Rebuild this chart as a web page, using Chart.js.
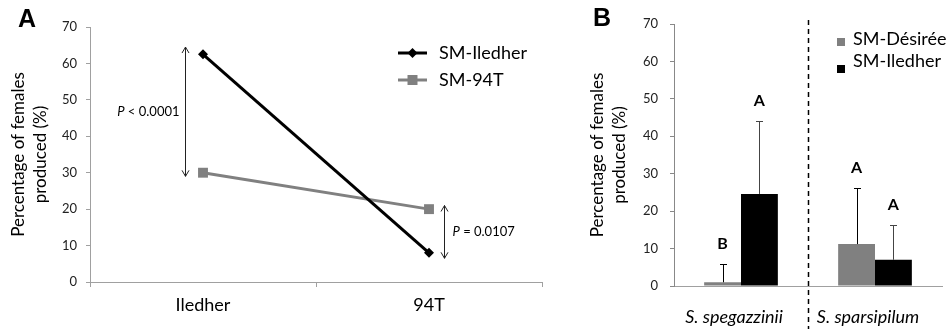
<!DOCTYPE html>
<html lang="en">
<head>
<meta charset="UTF-8">
<title>Percentage of females produced</title>
<script src="https://cdn.jsdelivr.net/npm/chart.js"></script>
<style>
  body { margin: 0; background: #fff; }
  .panel { position: absolute; top: 0; }
  .tag { position: absolute; font-family: 'Liberation Sans', Arial, sans-serif; font-weight: bold; font-size: 25px; line-height: 30px; }
</style>
</head>
<body>
<canvas id="chartA" class="panel" style="left:0" width="560" height="329"></canvas>
<canvas id="chartB" class="panel" style="left:570px" width="377" height="329"></canvas>
<div class="tag" style="left:18px;top:3px">A</div>
<div class="tag" style="left:593px;top:2px">B</div>

<script>
// Panel A: nematode population x cultivar
const cultivars = ['Iledher', '94T'];
const smIledher = [62.5, 8];
const sm94T = [30, 20];
// significance arrows, [from, to] on the y scale, one per cultivar
const pRanges = [[64.5, 29], [21, 6.5]];
const pLabels = [['P', ' < 0.0001'], ['P', ' = 0.0107']];

// Panel B: population on two wild species
const species = ['S. spegazzinii', 'S. sparsipilum'];
const smDesiree = [1, 11.2];
const smDesireeSd = [4.8, 15];
const smDesireeLetters = ['B', 'A'];
const smIledherB = [24.6, 7];
const smIledherBSd = [19.4, 9.2];
const smIledherBLetters = ['A', 'A'];

const yMax = 70;
const yStep = 10;
const yTitle = ['Percentage of females', 'produced (%)'];

const GREY = '#808080';
const AXIS = '#a0a0a0';

function drawArrow(ctx, x, y1, y2) {
  const h = 6, w = 3.5;
  ctx.beginPath();
  ctx.moveTo(x, y1); ctx.lineTo(x, y2);
  ctx.moveTo(x - w, y1 + h); ctx.lineTo(x, y1); ctx.lineTo(x + w, y1 + h);
  ctx.moveTo(x - w, y2 - h); ctx.lineTo(x, y2); ctx.lineTo(x + w, y2 - h);
  ctx.stroke();
}

function drawMarker(ctx, style, x, y, color) {
  ctx.fillStyle = color;
  ctx.beginPath();
  if (style === 'rectRot') {
    const r = 5;
    ctx.moveTo(x, y - r); ctx.lineTo(x + r, y); ctx.lineTo(x, y + r); ctx.lineTo(x - r, y);
    ctx.closePath();
  } else {
    ctx.rect(x - 5, y - 5, 10, 10);
  }
  ctx.fill();
}

const panelAExtras = {
  id: 'panelAExtras',
  afterDatasetsDraw(chart) {
    const {ctx, chartArea, scales: {x, y}} = chart;
    ctx.save();
    ctx.strokeStyle = '#222';
    ctx.lineWidth = 1;
    ctx.textBaseline = 'middle';
    pRanges.forEach((r, i) => {
      const ax = Math.round(x.getPixelForValue(i) + (i === 0 ? -18 : 15)) + 0.5;
      const y1 = y.getPixelForValue(r[0]);
      const y2 = y.getPixelForValue(r[1]);
      drawArrow(ctx, ax, y1, y2);
      const ym = (y1 + y2) / 2;
      ctx.font = 'italic 13px Lato';
      const wP = ctx.measureText(pLabels[i][0]).width;
      ctx.font = '13px Lato';
      const wR = ctx.measureText(pLabels[i][1]).width;
      const tx = i === 0 ? ax - 6 - wP - wR : ax + 8;
      ctx.fillStyle = '#000';
      ctx.textAlign = 'left';
      ctx.font = 'italic 13px Lato';
      ctx.fillText(pLabels[i][0], tx, ym);
      ctx.font = '13px Lato';
      ctx.fillText(pLabels[i][1], tx + wP, ym);
    });

    // legend: line + marker per series
    chart.data.datasets.forEach((ds, i) => {
      const ly = chartArea.top + 26 + i * 27;
      const lx = chartArea.right - 144;
      ctx.strokeStyle = ds.borderColor;
      ctx.lineWidth = 3;
      ctx.beginPath();
      ctx.moveTo(lx, ly); ctx.lineTo(lx + 29, ly);
      ctx.stroke();
      drawMarker(ctx, ds.pointStyle, lx + 14.5, ly, ds.borderColor);
      ctx.fillStyle = '#000';
      ctx.font = '18px Lato';
      ctx.fillText(ds.label, chartArea.right - 103, ly);
    });
    ctx.restore();
  }
};

const panelBExtras = {
  id: 'panelBExtras',
  afterDatasetsDraw(chart) {
    const {ctx, scales: {y}} = chart;
    ctx.save();
    ctx.lineWidth = 1;
    ctx.textAlign = 'center';
    ctx.textBaseline = 'middle';
    ctx.font = 'bold 16px Lato';
    chart.data.datasets.forEach((ds, di) => {
      chart.getDatasetMeta(di).data.forEach((bar, i) => {
        const top = Math.round(y.getPixelForValue(ds.data[i] + ds.errors[i])) + 0.5;
        const bx = Math.round(bar.x) + 0.5;
        ctx.strokeStyle = ds.errorColor;
        ctx.beginPath();
        ctx.moveTo(bx, bar.y); ctx.lineTo(bx, top);
        ctx.moveTo(bx - 3.5, top); ctx.lineTo(bx + 3.5, top);
        ctx.stroke();
        ctx.fillStyle = '#000';
        ctx.fillText(ds.letters[i], bar.x, top - 21);
      });
    });
    ctx.restore();
  },
  afterDraw(chart) {
    const {ctx, chartArea, scales: {x}} = chart;
    ctx.save();
    // dashed divider between the two species
    const mx = Math.round((x.getPixelForValue(0) + x.getPixelForValue(1)) / 2) + 0.5;
    ctx.strokeStyle = '#000';
    ctx.lineWidth = 1.5;
    ctx.setLineDash([5, 4]);
    ctx.beginPath();
    ctx.moveTo(mx, 20); ctx.lineTo(mx, chart.height);
    ctx.stroke();
    ctx.setLineDash([]);

    // legend: square + label
    ctx.textBaseline = 'middle';
    ctx.textAlign = 'left';
    ctx.font = '18px Lato';
    const sq = [38, 65];
    const ty = [39, 61];
    chart.data.datasets.forEach((ds, i) => {
      ctx.fillStyle = ds.backgroundColor;
      ctx.fillRect(chartArea.right - 105, sq[i], 8, 8);
      ctx.fillStyle = '#000';
      ctx.fillText(ds.label, chartArea.right - 89, ty[i]);
    });
    ctx.restore();
  }
};

function yAxis(width, labelPad, titlePad, borderColor) {
  return {
    min: 0,
    max: yMax,
    afterFit: s => { s.width = width; },
    border: { color: borderColor },
    grid: { drawOnChartArea: false, tickLength: 4, color: borderColor },
    ticks: { stepSize: yStep, padding: labelPad, color: '#222', font: { size: 13 } },
    title: {
      display: true,
      text: yTitle,
      color: '#000',
      padding: { top: titlePad, bottom: 0 },
      font: { size: 17, lineHeight: 1.3 }
    }
  };
}

function draw() {
  Chart.defaults.font.family = 'Lato';
  Chart.defaults.color = '#000';

  new Chart(document.getElementById('chartA'), {
    type: 'line',
    data: {
      labels: cultivars,
      datasets: [
        {
          label: 'SM-Iledher',
          data: smIledher,
          borderColor: '#000',
          backgroundColor: '#000',
          borderWidth: 3,
          pointStyle: 'rectRot',
          pointRadius: 5,
          pointBorderWidth: 0,
          pointBackgroundColor: '#000'
        },
        {
          label: 'SM-94T',
          data: sm94T,
          borderColor: GREY,
          backgroundColor: GREY,
          borderWidth: 3,
          pointStyle: 'rect',
          pointRadius: 7,
          pointBorderWidth: 0,
          pointBackgroundColor: GREY
        }
      ]
    },
    options: {
      responsive: false,
      animation: false,
      layout: { padding: { top: 27, right: 18, left: 0, bottom: 0 } },
      plugins: { legend: { display: false }, tooltip: { enabled: false } },
      scales: {
        x: {
          offset: true,
          afterFit: s => { s.height = 47; },
          border: { color: AXIS },
          grid: { offset: true, drawOnChartArea: false, tickLength: 5, color: AXIS },
          ticks: { padding: 7, color: '#000', font: { size: 18 } }
        },
        y: yAxis(90, 9, 7, AXIS)
      }
    },
    plugins: [panelAExtras]
  });

  new Chart(document.getElementById('chartB'), {
    type: 'bar',
    data: {
      labels: species,
      datasets: [
        {
          label: 'SM-Désirée',
          data: smDesiree,
          errors: smDesireeSd,
          letters: smDesireeLetters,
          errorColor: '#000',
          backgroundColor: GREY,
          categoryPercentage: 0.55,
          barPercentage: 1
        },
        {
          label: 'SM-Iledher',
          data: smIledherB,
          errors: smIledherBSd,
          letters: smIledherBLetters,
          errorColor: '#444',
          backgroundColor: '#000',
          categoryPercentage: 0.55,
          barPercentage: 1
        }
      ]
    },
    options: {
      responsive: false,
      animation: false,
      layout: { padding: { top: 24, right: 5, left: 0, bottom: 0 } },
      plugins: { legend: { display: false }, tooltip: { enabled: false } },
      scales: {
        x: {
          afterFit: s => { s.height = 43; },
          border: { color: AXIS },
          grid: { display: false },
          ticks: { padding: 12, labelOffset: -7, color: '#000', font: { size: 18, style: 'italic' } }
        },
        y: yAxis(104, 12, 16, '#888')
      }
    },
    plugins: [panelBExtras]
  });
}

Promise.all([
  document.fonts.load('16px Lato'),
  document.fonts.load('italic 16px Lato'),
  document.fonts.load('bold 16px Lato')
]).then(draw, draw);
</script>
</body>
</html>
